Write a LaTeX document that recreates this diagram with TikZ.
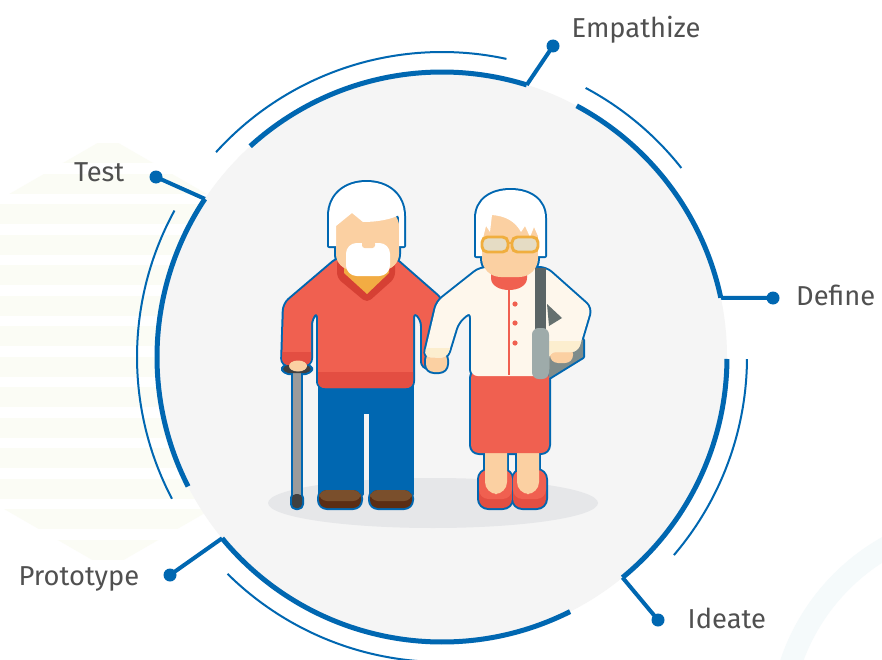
\documentclass[tikz,border=0pt]{standalone}
\usepackage{fontspec}
\setmainfont{Fira Sans}
\definecolor{ringblue}{RGB}{0,103,177}
\definecolor{discgray}{RGB}{245,245,245}
\definecolor{labelgray}{RGB}{80,80,80}
\definecolor{shadowgray}{RGB}{230,231,233}
\definecolor{hexpale}{RGB}{251,252,245}
\definecolor{arcpale}{RGB}{245,250,251}
\definecolor{skin}{RGB}{251,208,162}
\definecolor{sweater}{RGB}{240,96,80}
\definecolor{sweaterdark}{RGB}{227,78,66}
\definecolor{collarred}{RGB}{214,64,52}
\definecolor{neckorange}{RGB}{242,172,67}
\definecolor{shoebrown}{RGB}{122,79,44}
\definecolor{shoedark}{RGB}{91,45,20}
\definecolor{canegray}{RGB}{154,155,155}
\definecolor{canedark}{RGB}{64,64,64}
\definecolor{blouse}{RGB}{254,247,236}
\definecolor{cuff}{RGB}{252,238,207}
\definecolor{glassframe}{RGB}{240,174,62}
\definecolor{lens}{RGB}{229,220,196}
\definecolor{strapgray}{RGB}{91,101,102}
\definecolor{bagfront}{RGB}{158,171,170}
\definecolor{bagback}{RGB}{127,140,139}

\begin{document}
\begin{tikzpicture}[x=0.75pt,y=-0.75pt,
  ring/.style={draw=ringblue,line width=3.75pt},
  thinring/.style={draw=ringblue,line width=1.5pt},
  tick/.style={draw=ringblue,line width=3pt,line join=round},
  dot/.style={circle,fill=ringblue,inner sep=0pt,minimum size=9.75pt},
  stage/.style={text=labelgray,font=\fontsize{20.5}{25}\selectfont},
  edge/.style={draw=ringblue,line width=3pt,line join=round}]
\useasboundingbox (0,0) rectangle (882,660);
\fill[white] (0,0) rectangle (882,660);

% faint backdrop: striped hexagon and a wide arc
\begin{scope}
  \clip (108,137) -- (295,245) -- (295,461) -- (108,569) -- (-79,461) -- (-79,245) -- cycle;
  \foreach \k in {0,...,14}
    \fill[hexpale] (-80,{143+30.5*\k}) rectangle (300,{163+30.5*\k});
\end{scope}
\draw[arcpale,line width=16.5pt] (990,730) circle [radius=210];

% disc with ring segments
\coordinate (c) at (442,357);
\fill[discgray] (c) circle [radius=285];
\draw[ring] (c) ++(-72.7:285) arc[start angle=-72.7,end angle=-132.3,radius=285];
\draw[ring] (c) ++(-12:285) arc[start angle=-12,end angle=-61.8,radius=285];
\draw[ring] (c) ++(50.7:285) arc[start angle=50.7,end angle=0.4,radius=285];
\draw[ring] (c) ++(140.5:285) arc[start angle=140.5,end angle=63.3,radius=285];
\draw[ring] (c) ++(-146.3:285) arc[start angle=-146.3,end angle=-207,radius=285];

\draw[thinring] (c) ++(-77.8:305) arc[start angle=-77.8,end angle=-137.8,radius=305];
\draw[thinring] (c) ++(-38.3:305) arc[start angle=-38.3,end angle=-61.9,radius=305];
\draw[thinring] (c) ++(40.5:305) arc[start angle=40.5,end angle=0.4,radius=305];
\draw[thinring] (c) ++(134.7:305) arc[start angle=134.7,end angle=88,radius=305];
\draw[thinring] (c) ++(-151.3:305) arc[start angle=-151.3,end angle=-207.7,radius=305];

% stage ticks
\path (c) ++(-72.7:285) coordinate (empc);
\path (c) ++(-12:285) coordinate (defc);
\path (c) ++(50.7:285) coordinate (idec);
\path (c) ++(140.5:285) coordinate (proc);
\path (c) ++(-146.3:285) coordinate (tesc);

\node[dot] (empdot) at (553,46) {};
\node[dot] (defdot) at (773,298) {};
\node[dot] (idedot) at (658,620) {};
\node[dot] (prodot) at (170,575) {};
\node[dot] (tesdot) at (156,177) {};

\draw[tick] (empc) -- (empdot.center);
\draw[tick] (defc) -- (defdot.center);
\draw[tick] (idec) -- (idedot.center);
\draw[tick] (proc) -- (prodot.center);
\draw[tick] (tesc) -- (tesdot.center);

\node[stage,anchor=base west] (emplbl) at (567,38) {Empathize};
\node[stage,anchor=base east] (deflbl) at (880,305) {Define};
\node[stage,anchor=base west] (idelbl) at (683,628) {Ideate};
\node[stage,anchor=base east] (prolbl) at (144,585) {Prototype};
\node[stage,anchor=base east] (teslbl) at (129,181) {Test};

% ground shadow
\fill[shadowgray] (433,503) ellipse [x radius=165,y radius=25];

% --- old man ---
\def\manhair{(329,246) -- (329,216) .. controls (329,195) and (345,182) .. (366.5,182) .. controls (388,182) and (404,195) .. (404,216) -- (404,246) -- cycle}
\def\manface{[rounded corners=12] (336,210) -- (336,270) -- (399,270) -- (399,210) -- cycle}
\def\mansweater{[rounded corners=5] (338,258) -- (284,304) -- (282,365) -- (311,365) -- (311,318) -- (318,311) -- (318,388) -- (413,388) -- (413,311) -- (422,319) -- (422,368) -- (444,368) -- (442,300) -- (394,258) -- cycle}
\def\manpants{(320,384) -- (412,384) -- (412,494) -- (371,494) -- (371,412) -- (362,412) -- (362,494) -- (320,494) -- cycle}
\draw[edge] \manhair;
\draw[edge] \manface;
\draw[edge] \mansweater;
\draw[edge] \manpants;
\draw[edge,rounded corners=6] (319,490) rectangle (361,508);
\draw[edge,rounded corners=6] (370,490) rectangle (412,508);
\draw[edge] (293,368) rectangle (301,500);
\draw[edge,rounded corners=3] (292,494) rectangle (302,508);
\draw[edge,rounded corners=4] (283,365) rectangle (311,373);

\fill[canegray] (293,368) rectangle (301,500);
\fill[canedark,rounded corners=3] (292,494) rectangle (302,508);
\fill[ringblue] \manpants;
\fill[shoedark,rounded corners=6] (319,490) rectangle (361,508);
\fill[shoebrown,rounded corners=6] (319,490) rectangle (361,501);
\fill[shoedark,rounded corners=6] (370,490) rectangle (412,508);
\fill[shoebrown,rounded corners=6] (370,490) rectangle (412,501);
\fill[sweater] \mansweater;
\begin{scope}
  \clip \mansweater;
  \fill[sweaterdark,rounded corners=10] (300,372) rectangle (430,400);
  \fill[sweaterdark] (278,352) rectangle (312,370);
\end{scope}
\fill[canedark,rounded corners=4] (283,365) rectangle (311,373);
\fill[skin] (298,366) ellipse [x radius=9,y radius=5.5];
\fill[collarred,rounded corners=4] (337,258) -- (395,258) -- (395,278) -- (367,303) -- (337,278) -- cycle;
\fill[neckorange] (344,258) -- (389,258) -- (389,273) -- (367,294) -- (344,273) -- cycle;
\fill[skin] \manface;
\fill[white] (329,246) -- (329,216) .. controls (329,195) and (345,182) .. (366.5,182) .. controls (388,182) and (404,195) .. (404,216) -- (404,246) -- (399,246) -- (399,215) .. controls (392,219) and (378,222) .. (363,222) -- (352,213) -- (336,226) -- (336,246) -- cycle;
\fill[white,rounded corners=8] (346,243) -- (346,276) -- (390,276) -- (390,243) -- cycle;
\fill[skin,rounded corners=2] (362,241) rectangle (375,248);

% --- old woman ---
\def\womhair{(476,256) -- (476,218) .. controls (476,200) and (491,190) .. (510.5,190) .. controls (530,190) and (545,200) .. (545,218) -- (545,256) -- cycle}
\def\womface{[rounded corners=14] (482,210) -- (482,277) -- (538,277) -- (538,210) -- cycle}
\def\womblouse{[rounded corners=5] (480,268) -- (437,302) -- (424,357) -- (447,358) -- (458,322) -- (471,311) -- (471,376) -- (549,376) -- (549,352) -- (578,352) -- (591,308) -- (546,268) -- cycle}
\def\womskirt{[rounded corners=6] (471,370) -- (471,453) -- (549,453) -- (549,370) -- cycle}
\def\bagback{(549,318) -- (583,340) -- (583,357) -- (549,378) -- cycle}
\draw[edge] \womhair;
\draw[edge] \womface;
\draw[edge] \womblouse;
\draw[edge] \womskirt;
\draw[edge] \bagback;
\draw[edge] (485,448) rectangle (507,494);
\draw[edge] (517,448) rectangle (539,494);
\draw[edge,rounded corners=7] (479,470) rectangle (512,508);
\draw[edge,rounded corners=7] (513,470) rectangle (546,508);
\draw[edge,rounded corners=6] (426,352) rectangle (447,372);
\draw[edge,rounded corners=6] (550,346) rectangle (573,363);
\draw[edge] (547,304) -- (562,318) -- (549,326) -- cycle;

\fill[sweaterdark,rounded corners=7] (479,470) rectangle (512,508);
\fill[sweater,rounded corners=7] (479,470) rectangle (512,499);
\fill[sweaterdark,rounded corners=7] (513,470) rectangle (546,508);
\fill[sweater,rounded corners=7] (513,470) rectangle (546,499);
\fill[skin,rounded corners=9] (485,440) -- (485,494) -- (507,494) -- (507,440) -- cycle;
\fill[skin,rounded corners=9] (517,440) -- (517,494) -- (539,494) -- (539,440) -- cycle;
\fill[sweater] \womskirt;
\fill[bagback] \bagback;
\fill[skin,rounded corners=6] (426,352) rectangle (447,372);
\fill[skin,rounded corners=6] (550,346) rectangle (573,363);
\fill[blouse] \womblouse;
\begin{scope}
  \clip \womblouse;
  \fill[cuff] (415,348) rectangle (452,360);
  \fill[cuff] (548,341) rectangle (592,356);
\end{scope}
\draw[sweater,line width=1.4pt] (509,288) -- (509,375);
\foreach \yy in {304,323,343}
  \fill[sweater] (515,\yy) circle [radius=2.6];
\fill[strapgray] (535,268) rectangle (546,333);
\fill[bagback!80!black] (547,304) -- (562,318) -- (549,326) -- cycle;
\fill[bagfront,rounded corners=5] (532,328) rectangle (549,379);
\fill[sweater] (491,270) -- (491,278) .. controls (491,286) and (500,290) .. (509,290) .. controls (518,290) and (527,286) .. (527,278) -- (527,270) -- cycle;
\fill[skin] \womface;
\fill[white] (476,256) -- (476,218) .. controls (476,200) and (491,190) .. (510.5,190) .. controls (530,190) and (545,200) .. (545,218) -- (545,256) -- (538,256) -- (538,236) -- (534,227) -- (530,237) -- (525,226) -- (521,232) .. controls (515,221) and (505,216) .. (492,215) -- (490,232) -- (486,226) -- (482,242) -- (482,256) -- cycle;
\draw[glassframe,line width=2.2pt,fill=lens,rounded corners=4] (482,237) rectangle (508,252);
\draw[glassframe,line width=2.2pt,fill=lens,rounded corners=4] (512,237) rectangle (538,252);
\draw[glassframe,line width=2.2pt] (508,243) -- (512,243);
\end{tikzpicture}
\end{document}
